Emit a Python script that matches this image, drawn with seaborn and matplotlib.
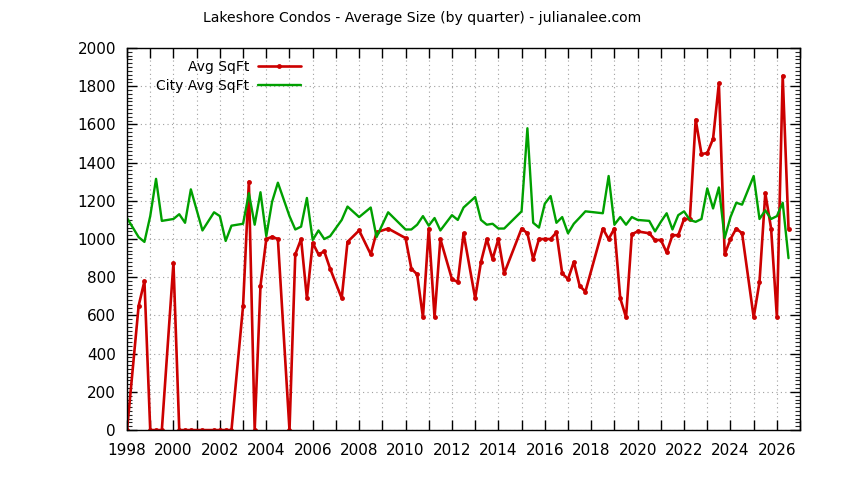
import pandas as pd
import numpy as np
import matplotlib
matplotlib.use('Agg')
import matplotlib.pyplot as plt
import seaborn as sns
from matplotlib.ticker import MultipleLocator

# ── Data (quarters as decimal years) ──────────────────────────
quarters = [
    1998.0, 1998.5, 1998.75,
    1999.0, 1999.25, 1999.5,
    2000.0, 2000.25, 2000.5, 2000.75,
    2001.25, 2001.75,
    2002.0, 2002.25, 2002.5,
    2003.0, 2003.25, 2003.5, 2003.75,
    2004.0, 2004.25, 2004.5,
    2005.0, 2005.25, 2005.5, 2005.75,
    2006.0, 2006.25, 2006.5, 2006.75,
    2007.25, 2007.5,
    2008.0, 2008.5, 2008.75,
    2009.25,
    2010.0, 2010.25, 2010.5, 2010.75,
    2011.0, 2011.25, 2011.5,
    2012.0, 2012.25, 2012.5,
    2013.0, 2013.25, 2013.5, 2013.75,
    2014.0, 2014.25,
    2015.0, 2015.25, 2015.5, 2015.75,
    2016.0, 2016.25, 2016.5, 2016.75,
    2017.0, 2017.25, 2017.5, 2017.75,
    2018.5, 2018.75,
    2019.0, 2019.25, 2019.5, 2019.75,
    2020.0, 2020.5, 2020.75,
    2021.0, 2021.25, 2021.5, 2021.75,
    2022.0, 2022.25, 2022.5, 2022.75,
    2023.0, 2023.25, 2023.5, 2023.75,
    2024.0, 2024.25, 2024.5,
    2025.0, 2025.25, 2025.5, 2025.75,
    2026.0, 2026.25, 2026.5,
]

avg_sqft = [
    0, 650, 780,
    0, 0, 0,
    875, 0, 0, 0,
    0, 0,
    0, 0, 0,
    650, 1300, 0, 755,
    1000, 1012, 1000,
    0, 920, 1000, 690,
    980, 920, 935, 845,
    690, 985,
    1045, 920, 1035,
    1055,
    1005, 845, 815, 590,
    1055, 590, 1000,
    790, 775, 1030,
    690, 880, 1000, 895,
    1000, 820,
    1055, 1030, 895, 1000,
    1000, 1000, 1035, 820,
    790, 880, 755, 725,
    1055, 1000,
    1055, 690, 590, 1025,
    1040, 1030, 995,
    995, 930, 1020, 1020,
    1105, 1105, 1625, 1445,
    1450, 1525, 1815, 920,
    1000, 1055, 1030,
    590, 775, 1240, 1055,
    590, 1855, 1055,
]

city_avg_sqft = [
    1110, 1010, 985,
    1120, 1315, 1095,
    1105, 1130, 1085, 1260,
    1045, 1140,
    1120, 990, 1070,
    1080, 1240, 1075, 1245,
    1015, 1195, 1295,
    1120, 1050, 1065, 1215,
    995, 1045, 1000, 1015,
    1100, 1170,
    1115, 1165, 1010,
    1140,
    1050, 1050, 1075, 1120,
    1070, 1110, 1045,
    1125, 1100, 1165,
    1220, 1100, 1075, 1080,
    1055, 1055,
    1145, 1580, 1085, 1060,
    1185, 1225, 1085, 1115,
    1030, 1080, 1112, 1145,
    1135, 1330,
    1075, 1115, 1075, 1115,
    1100, 1095, 1040,
    1090, 1135, 1050, 1125,
    1145, 1100, 1090, 1105,
    1265, 1160, 1270, 1005,
    1115, 1190, 1180,
    1330, 1105, 1150, 1105,
    1120, 1190, 900,
]

df = pd.DataFrame({"date": quarters, "avg": avg_sqft, "city": city_avg_sqft})

# ── Style ─────────────────────────────────────────────────────
sns.set_theme(style="ticks")
plt.rcParams['font.family'] = ['DejaVu Sans']
plt.rcParams['text.color'] = 'black'

fig = plt.figure(figsize=(8.44, 4.8), dpi=100)
ax = fig.add_axes([0.1505, 0.104, 0.7975, 0.796])

sns.lineplot(data=df, x="date", y="avg", ax=ax, color="#cc0000", lw=1.9,
             marker="o", markersize=3.5, markeredgewidth=0,
             label="Avg SqFt")
sns.lineplot(data=df, x="date", y="city", ax=ax, color="#00a000", lw=1.7,
             label="City Avg SqFt")

ax.set_xlim(1998, 2027)
ax.set_ylim(0, 2000)
ax.set_xlabel("")
ax.set_ylabel("")

ax.set_xticks(np.arange(1998, 2028, 1))
ax.set_xticklabels([str(y) if y % 2 == 0 else "" for y in range(1998, 2028)])
ax.yaxis.set_major_locator(MultipleLocator(200))
ax.yaxis.set_minor_locator(MultipleLocator(20))

ax.tick_params(axis='both', which='major', direction='in', length=7, width=1,
               top=True, right=True, labelsize=11, colors='black')
ax.tick_params(axis='x', which='major', pad=9)
ax.tick_params(axis='y', which='major', pad=8)
ax.tick_params(axis='y', which='minor', direction='in', length=3.5, width=0.8,
               left=True, right=True)

ax.grid(True, which='major', color='#a0a0a0', linestyle=(0, (1, 3)), lw=0.8)
for s in ax.spines.values():
    s.set_color('black')
    s.set_linewidth(1)

fig.text(0.5, 1 - 18 / 480, "Lakeshore Condos - Average Size (by quarter) - julianalee.com",
         ha='center', va='center', fontsize=10.1, color='black')

leg = ax.legend(loc='upper right', bbox_to_anchor=(301 / 844, 1 - 60 / 480),
                bbox_transform=fig.transFigure, frameon=False,
                markerfirst=False, fontsize=10, handlelength=3.1,
                handletextpad=0.6, labelspacing=0.38,
                borderpad=0, borderaxespad=0)
for t in leg.get_texts():
    t.set_color('black')

fig.savefig("out.png", dpi=100)
